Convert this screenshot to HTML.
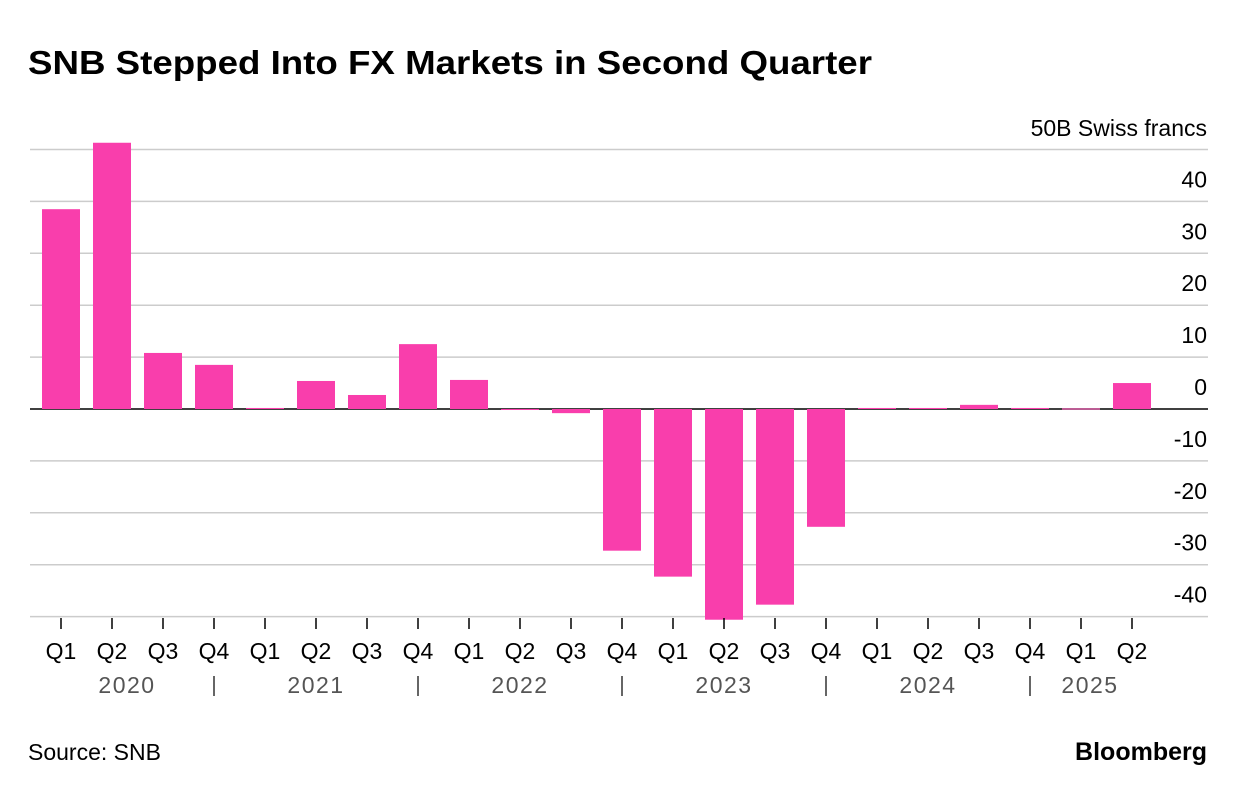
<!DOCTYPE html>
<html><head><meta charset="utf-8">
<style>
body{margin:0;background:#fff;width:1236px;height:794px;overflow:hidden;font-family:"Liberation Sans",Arial,sans-serif;}
</style></head>
<body>
<svg id="chart" width="1236" height="794" xmlns="http://www.w3.org/2000/svg" font-family="Liberation Sans, Arial, sans-serif">
<text x="28" y="74" font-size="33" font-weight="bold" fill="#000" textLength="844" lengthAdjust="spacingAndGlyphs">SNB Stepped Into FX Markets in Second Quarter</text>
<text x="1207" y="136" font-size="23" text-anchor="end" fill="#000">50B Swiss francs</text>
<g id="grid"></g>
<g id="bars"></g>
<g id="xaxis"></g>
<text x="28" y="760" font-size="23" fill="#000">Source: SNB</text>
<text x="1207" y="760" font-size="25" font-weight="bold" text-anchor="end" fill="#000">Bloomberg</text>
</svg>
<script>
const quarters=["Q1","Q2","Q3","Q4","Q1","Q2","Q3","Q4","Q1","Q2","Q3","Q4","Q1","Q2","Q3","Q4","Q1","Q2","Q3","Q4","Q1","Q2"];
const values=[38.5,51.3,10.8,8.5,0.2,5.4,2.7,12.5,5.6,0,-0.8,-27.3,-32.3,-40.6,-37.7,-22.7,0.2,0.2,0.8,0.2,0.1,5.0];
const years=["2020","2021","2022","2023","2024","2025"];
const yTicks=[40,30,20,10,0,-10,-20,-30,-40];
const gridVals=[50,40,30,20,10,0,-10,-20,-30,-40];
const NS="http://www.w3.org/2000/svg";
const y=v=>409-v*5.19;
const x=i=>61+i*51.0;
const bw=38;
function mk(t,a,p){const e=document.createElementNS(NS,t);for(const k in a)e.setAttribute(k,a[k]);p.appendChild(e);return e;}
const grid=document.getElementById('grid');
gridVals.forEach(v=>{
  const l=mk('line',{x1:30,x2:1208,y1:y(v),y2:y(v),stroke:v===0?'#000':'#cccccc','stroke-width':1.5},grid);
  
  
});
yTicks.forEach(v=>{
  const t=mk('text',{x:1207,y:y(v)-14,'font-size':23,'text-anchor':'end',fill:'#000'},grid);
  t.textContent=String(v);
  
  
});
const bars=document.getElementById('bars');
values.forEach((v,i)=>{
  const top=Math.min(y(v),y(0)),h=Math.max(Math.abs(y(v)-y(0)),1);
  const r=mk('rect',{x:x(i)-bw/2,y:top,width:bw,height:h,fill:'#f93eac'},bars);
  
  
});
const xa=document.getElementById('xaxis');
quarters.forEach((q,i)=>{
  const tk=mk('line',{x1:x(i),x2:x(i),y1:618,y2:629,stroke:'#000','stroke-width':1.5},xa);
  
  
  const t=mk('text',{x:x(i),y:659,'font-size':23,'text-anchor':'middle',fill:'#000'},xa);
  t.textContent=q;
  
  
});
years.forEach((yr,j)=>{
  const left=j===0?40:x(j*4-1);
  const right=j<5?x(j*4+3):1150;
  const t=mk('text',{x:(left+right)/2,y:693,'font-size':23,'text-anchor':'middle',fill:'#555','letter-spacing':'1.5'},xa);
  t.textContent=yr;
  
  
  if(j>0){
    const s=mk('line',{x1:x(j*4-1),x2:x(j*4-1),y1:676,y2:696,stroke:'#333','stroke-width':1.5},xa);
    
    
  }
});
</script>
</body></html>
